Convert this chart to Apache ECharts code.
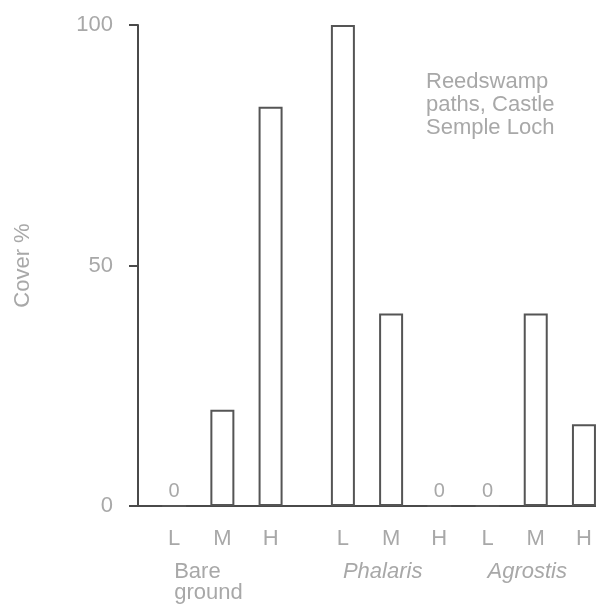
<!DOCTYPE html>
<html>
<head>
<meta charset="utf-8">
<style>
  html, body { margin: 0; padding: 0; background: #fff; }
  #chart { width: 596px; height: 606px; }
</style>
<script src="https://cdn.jsdelivr.net/npm/echarts@6/dist/echarts.min.js"></script>
</head>
<body>
<div id="chart"></div>
<script>
  // cover %, order L, M, H
  var levels = ['L', 'M', 'H'];
  var groupNames = ['Bare\nground', 'Phalaris', 'Agrostis'];
  var bareGround = [0, 20, 83];
  var phalaris = [100, 40, 0];
  var agrostis = [0, 40, 17];
  var yTicks = [0, 50, 100];

  var groupValues = [bareGround, phalaris, agrostis];
  var groupStart = [1, 8, 14];   // slot of each group's L bar
  var slotCount = 19;

  var cats = [], groupCats = [], values = [];
  for (var i = 0; i < slotCount; i++) {
    cats.push('');
    groupCats.push('');
    values.push('-');
  }
  groupStart.forEach(function (s, g) {
    groupCats[s] = groupNames[g];
    levels.forEach(function (lv, k) {
      cats[s + k * 2] = lv;
      values[s + k * 2] = groupValues[g][k];
    });
  });

  var textGrey = '#a8a8a8';
  var lineGrey = '#4a4a4a';
  var font = 'Liberation Sans';

  var myChart = echarts.init(document.getElementById('chart'));
  var option = {
    backgroundColor: '#fff',
    animation: false,
    textStyle: { fontFamily: font },
    grid: { left: 138, top: 25, bottom: 100, width: 460 },
    xAxis: [
      {
        type: 'category',
        data: cats,
        axisLine: { lineStyle: { color: lineGrey, width: 2 } },
        axisTick: { show: false },
        axisLabel: { interval: 0, color: textGrey, fontSize: 22, margin: 22, fontFamily: font }
      },
      {
        type: 'category',
        position: 'bottom',
        data: groupCats,
        axisLine: { show: false },
        axisTick: { show: false },
        axisLabel: {
          interval: 0,
          margin: 55,
          align: 'left',
          verticalAlign: 'top',
          formatter: function (v) {
            if (!v) return '';
            var st = v.indexOf('\n') >= 0 ? 'n' : 'i';
            return v.split('\n').map(function (t) { return '{' + st + '|' + t + '}'; }).join('\n');
          },
          rich: {
            n: { color: textGrey, fontSize: 22, lineHeight: 21, fontFamily: font },
            i: { color: textGrey, fontSize: 22, lineHeight: 21, fontStyle: 'italic', fontFamily: font }
          }
        }
      }
    ],
    yAxis: {
      type: 'value',
      min: yTicks[0],
      max: yTicks[yTicks.length - 1],
      interval: yTicks[1] - yTicks[0],
      name: 'Cover %',
      nameLocation: 'middle',
      nameGap: 104,
      nameTextStyle: { color: textGrey, fontSize: 22, fontFamily: font },
      axisLine: { show: true, lineStyle: { color: lineGrey, width: 2 } },
      axisTick: { show: true, length: 9, lineStyle: { color: lineGrey, width: 2 } },
      axisLabel: { color: textGrey, fontSize: 22, margin: 25, fontFamily: font },
      splitLine: { show: false }
    },
    graphic: [{
      type: 'text',
      left: 426,
      top: 70,
      style: {
        text: 'Reedswamp\npaths, Castle\nSemple Loch',
        fill: textGrey,
        font: '22px "Liberation Sans"',
        lineHeight: 23
      }
    }],
    series: [{
      type: 'bar',
      data: values,
      barWidth: 24,
      itemStyle: { color: '#fff', borderColor: '#555', borderWidth: 2 },
      label: {
        show: true,
        position: 'top',
        distance: 4,
        color: textGrey,
        fontSize: 20,
        fontFamily: font,
        formatter: function (p) { return p.value === 0 ? '0' : ''; }
      }
    }]
  };
  myChart.setOption(option);
</script>
</body>
</html>
